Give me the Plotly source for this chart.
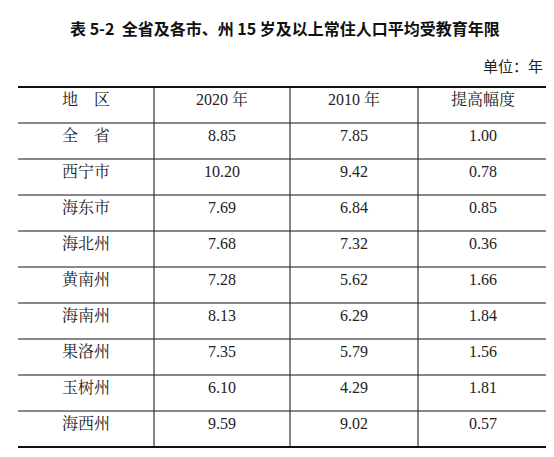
import plotly.graph_objects as go

headers = ["地　区", "2020 年", "2010 年", "提高幅度"]
regions = ["全　省", "西宁市", "海东市", "海北州", "黄南州", "海南州", "果洛州", "玉树州", "海西州"]
y2020 = ["8.85", "10.20", "7.69", "7.68", "7.28", "8.13", "7.35", "6.10", "9.59"]
y2010 = ["7.85", "9.42", "6.84", "7.32", "5.62", "6.29", "5.79", "4.29", "9.02"]
gain = ["1.00", "0.78", "0.85", "0.36", "1.66", "1.84", "1.56", "1.81", "0.57"]

W, H = 554, 457
top, rowh = 79, 36
xs = [10, 146, 282, 410, 540]
nrows = len(regions) + 1
bottom = top + rowh * nrows
shift = 2

font = dict(family="Liberation Serif, Noto Serif CJK SC, Noto Sans CJK SC", size=16, color="#222")
fig = go.Figure(go.Table(
    domain=dict(x=[xs[0] / W, xs[-1] / W], y=[1 - (bottom - shift) / H, 1 - (top - shift) / H]),
    columnwidth=[xs[i + 1] - xs[i] for i in range(4)],
    header=dict(values=headers, height=rowh, align="center", fill_color="white",
                line_color="white", font=font),
    cells=dict(values=[regions, y2020, y2010, gain], height=rowh, align="center",
               fill_color="white", line_color="white", font=font),
))

shapes = []
for i in range(nrows + 1):
    py = top + i * rowh
    shapes.append(dict(type="line", xref="paper", yref="paper", x0=xs[0] / W, x1=xs[-1] / W,
                       y0=1 - py / H, y1=1 - py / H,
                       line=dict(color="#111", width=2 if i in (0, nrows) else 1)))
for x in xs[1:-1]:
    shapes.append(dict(type="line", xref="paper", yref="paper", x0=x / W, x1=x / W,
                       y0=1 - top / H, y1=1 - bottom / H, line=dict(color="#111", width=1)))

fig.update_layout(
    width=W, height=H, margin=dict(l=0, r=0, t=0, b=0), paper_bgcolor="white",
    shapes=shapes,
    annotations=[
        dict(text="<b>表 5-2  全省及各市、州 15 岁及以上常住人口平均受教育年限</b>", x=0.5, y=1 - 20 / H,
             xref="paper", yref="paper", showarrow=False, xanchor="center", yanchor="middle",
             font=dict(family="Noto Sans CJK SC", size=16, color="#111")),
        dict(text="单位：年", x=537 / W, y=1 - 58 / H, xref="paper", yref="paper", showarrow=False,
             xanchor="right", yanchor="middle",
             font=dict(family="Noto Sans CJK SC", size=15, color="#222")),
    ],
)
fig.write_html("out.html")
